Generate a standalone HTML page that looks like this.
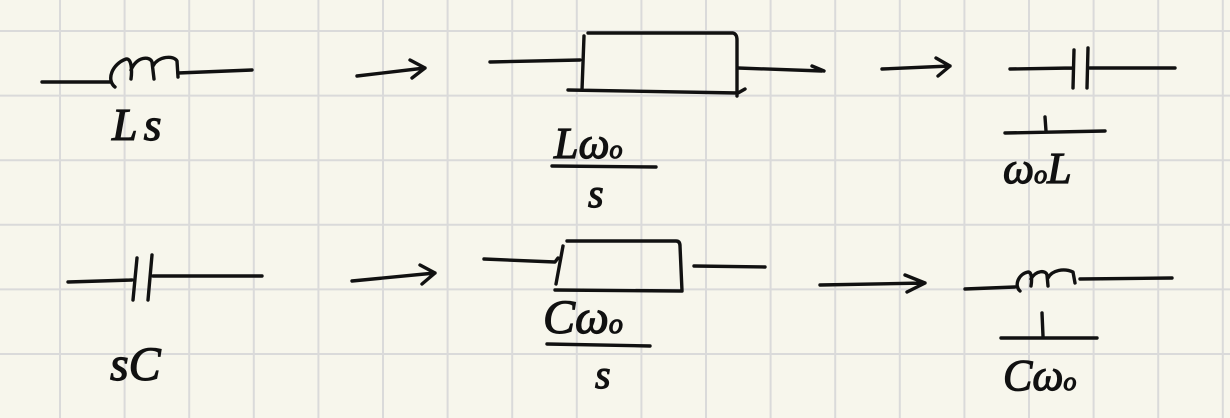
<!DOCTYPE html>
<html><head><meta charset="utf-8"><style>
html,body{margin:0;padding:0;background:#f7f6ec;}
svg{display:block}
text{font-family:"Liberation Serif",serif;font-style:italic;fill:#111;stroke:#111;stroke-width:1.2;}
</style></head><body>
<svg width="1230" height="418" viewBox="0 0 1230 418" xmlns="http://www.w3.org/2000/svg">
<rect width="1230" height="418" fill="#f7f6ec"/>
<g stroke="#dadada" stroke-width="2">
<line x1="60" y1="0" x2="60" y2="418"/><line x1="124.6" y1="0" x2="124.6" y2="418"/><line x1="189.2" y1="0" x2="189.2" y2="418"/><line x1="253.8" y1="0" x2="253.8" y2="418"/><line x1="318.4" y1="0" x2="318.4" y2="418"/><line x1="383" y1="0" x2="383" y2="418"/><line x1="447.6" y1="0" x2="447.6" y2="418"/><line x1="512.2" y1="0" x2="512.2" y2="418"/><line x1="576.8" y1="0" x2="576.8" y2="418"/><line x1="641.4" y1="0" x2="641.4" y2="418"/><line x1="706" y1="0" x2="706" y2="418"/><line x1="770.6" y1="0" x2="770.6" y2="418"/><line x1="835.2" y1="0" x2="835.2" y2="418"/><line x1="899.8" y1="0" x2="899.8" y2="418"/><line x1="964.4" y1="0" x2="964.4" y2="418"/><line x1="1029" y1="0" x2="1029" y2="418"/><line x1="1093.6" y1="0" x2="1093.6" y2="418"/><line x1="1158.2" y1="0" x2="1158.2" y2="418"/><line x1="1222.8" y1="0" x2="1222.8" y2="418"/>
<line x1="0" y1="31" x2="1230" y2="31"/><line x1="0" y1="95.6" x2="1230" y2="95.6"/><line x1="0" y1="160.2" x2="1230" y2="160.2"/><line x1="0" y1="224.8" x2="1230" y2="224.8"/><line x1="0" y1="289.4" x2="1230" y2="289.4"/><line x1="0" y1="354" x2="1230" y2="354"/>
</g>
<g fill="none" stroke="#111" stroke-width="3.4" stroke-linecap="round" stroke-linejoin="round">
<path d="M42 82 L110 82"/>
<path d="M115 87 C106 80 112 64 126 59 C132 58 132 72 131 79 M131 70 C137 56 150 56 152 62 L154 79 M153 66 C158 56 174 55 177 61 L178 77"/>
<path d="M178 73 L252 70"/>
<path d="M357 76 L425 68 M410 60 L425 68 L412 78"/>
<path d="M490 62 L580 60"/>
<path d="M584 36 L582 90 M588 33 L733 33 Q737 34 737 40 L737 96 M568 90 L738 93 L745 89"/>
<path d="M738 68 L822 71 M812 66 L824 71"/>
<path d="M882 69 L950 66 M936 58 L950 66 L938 76"/>
<path d="M1010 69 L1072 68 M1074 50 L1073 88 M1088 48 L1087 88 M1090 68 L1175 68"/>
<path d="M1005 133 L1105 131 M1045 117 L1046 131"/>
<path d="M68 282 L132 280 M137 258 L133 300 M152 255 L148 300 M153 276 L262 276"/>
<path d="M352 281 L435 273 M420 265 L435 273 L422 284"/>
<path d="M484 259 L555 262 L558 258 M563 246 L556 284 M567 241 L676 241 Q680 241 680 246 L682 291 M555 290 L682 291"/>
<path d="M694 266 L765 267"/>
<path d="M820 285 L925 283 M905 275 L925 283 L907 292"/>
<path d="M965 289 L1015 287"/>
<path d="M1020 291 C1014 286 1018 274 1028 272 C1032 272 1032 280 1031 286 M1031 279 C1036 270 1046 270 1047 275 L1048 286 M1048 278 C1052 270 1064 268 1073 272 L1075 283"/>
<path d="M1080 279 L1172 278"/>
<path d="M1001 338 L1097 338 M1042 313 L1043 336"/>
<path d="M552 166 L656 167"/>
<path d="M547 344 L650 346"/>
</g>
<text x="112" y="140" font-size="46" letter-spacing="6">Ls</text>
<text x="554" y="158" font-size="44">Lω<tspan font-size="26">o</tspan></text>
<text x="588" y="207" font-size="40">s</text>
<text x="1003" y="183" font-size="44">ω<tspan font-size="26">o</tspan>L</text>
<text x="110" y="380" font-size="48">sC</text>
<text x="543" y="333" font-size="48">Cω<tspan font-size="28">o</tspan></text>
<text x="595" y="388" font-size="40">s</text>
<text x="1003" y="390" font-size="44">Cω<tspan font-size="26">o</tspan></text>
</svg>
</body></html>
